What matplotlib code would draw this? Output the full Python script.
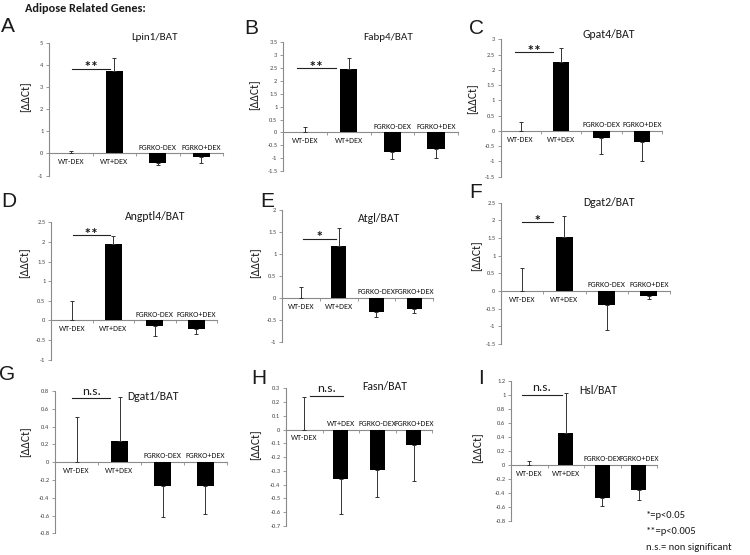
import numpy as np
import matplotlib
matplotlib.use('Agg')
import matplotlib.pyplot as plt
from matplotlib import font_manager

available = {f.name for f in font_manager.fontManager.ttflist}
base_font = next((f for f in ['Carlito', 'Lato'] if f in available), 'DejaVu Sans')
narrow_font = next((f for f in ['Carlito', 'Liberation Sans Narrow', 'Arial Narrow']
                    if f in available), None)
if narrow_font is None:
    cat_family, cat_size = [base_font, 'DejaVu Sans'], 4.9
else:
    cat_family, cat_size = [narrow_font, 'DejaVu Sans'], 5.8

plt.rcParams['font.family'] = [base_font, 'DejaVu Sans']
plt.rcParams['axes.unicode_minus'] = False

# ---------------- data ----------------
categories = ['WT-DEX', 'WT+DEX', 'FGRKO-DEX', 'FGRKO+DEX']
genes = ['Lpin1/BAT', 'Fabp4/BAT', 'Gpat4/BAT', 'Angptl4/BAT', 'Atgl/BAT',
         'Dgat2/BAT', 'Dgat1/BAT', 'Fasn/BAT', 'Hsl/BAT']
panel_letters = ['A', 'B', 'C', 'D', 'E', 'F', 'G', 'H', 'I']

lpin1 = [0.0, 3.72, -0.45, -0.18]
lpin1_err = [0.12, 0.58, 0.06, 0.27]
fabp4 = [0.0, 2.45, -0.78, -0.66]
fabp4_err = [0.22, 0.43, 0.26, 0.35]
gpat4 = [0.0, 2.27, -0.24, -0.36]
gpat4_err = [0.28, 0.44, 0.53, 0.62]
angptl4 = [0.0, 1.95, -0.14, -0.22]
angptl4_err = [0.50, 0.20, 0.27, 0.12]
atgl = [0.0, 1.19, -0.33, -0.25]
atgl_err = [0.25, 0.39, 0.10, 0.09]
dgat2 = [0.0, 1.54, -0.40, -0.13]
dgat2_err = [0.65, 0.59, 0.70, 0.11]
dgat1 = [0.0, 0.24, -0.27, -0.27]
dgat1_err = [0.51, 0.49, 0.35, 0.31]
fasn = [0.0, -0.36, -0.29, -0.11]
fasn_err = [0.24, 0.25, 0.20, 0.26]
hsl = [0.0, 0.46, -0.47, -0.36]
hsl_err = [0.06, 0.56, 0.11, 0.14]

values = [lpin1, fabp4, gpat4, angptl4, atgl, dgat2, dgat1, fasn, hsl]
errors = [lpin1_err, fabp4_err, gpat4_err, angptl4_err, atgl_err,
          dgat2_err, dgat1_err, fasn_err, hsl_err]

sig_labels = ['**', '**', '**', '**', '*', '*', 'n.s.', 'n.s.', 'n.s.']
sig_levels = [3.82, 2.5, 2.57, 2.17, 1.35, 1.95, 0.72, 0.245, 1.0]

# y-axis ranges (min, max, step)
y_ranges = [(-1, 5, 1), (-1.5, 3.5, 0.5), (-1.5, 3, 0.5), (-1, 2.5, 0.5),
            (-1, 2, 0.5), (-1.5, 2.5, 0.5), (-0.8, 0.8, 0.2), (-0.7, 0.3, 0.1),
            (-0.8, 1.2, 0.2)]

legend_lines = ['*=p<0.05', '**=p<0.005', 'n.s.= non significant']

# ---------------- layout (pixels) ----------------
W, H = 750, 555
# x_left, x_right, y_top, y_bottom
boxes = [(49, 223, 42.7, 175.5), (283, 458, 42.3, 171), (500.5, 662, 39.3, 176.7),
         (51, 217, 222.3, 359.5), (282, 433, 210, 341.7), (501, 670, 202.7, 344),
         (55, 227, 391, 533.3), (286, 432, 388.3, 526), (511, 657, 380.7, 521)]
title_pos = [(155, 37), (388, 37), (609, 35), (155, 217), (379, 218), (609, 203),
             (153, 396), (385, 386), (598, 391)]
title_size = [8, 8, 8.5, 8.5, 8.5, 8.5, 8.5, 8.5, 8.5]
letter_pos = [(8, 26), (251, 29), (477, 28), (9, 201), (267, 201), (476, 192),
              (7, 375), (259, 378), (481, 378)]
ylabel_pos = [(26, 97), (255, 95), (473, 99), (25, 263), (256, 263), (477, 256),
              (26, 442), (256, 445), (478, 448)]
sig_spans = [(0.03, 0.90), (-0.18, 0.71), (-0.13, 0.79), (0.03, 0.92), (0.06, 0.93),
             (0.0, 0.73), (-0.1, 0.78), (0.16, 1.06), (-0.2, 0.9)]


def fx(x):
    return x / W


def fy(y):
    return 1 - y / H


fig = plt.figure(figsize=(7.5, 5.55), dpi=100)
fig.patch.set_facecolor('white')

axis_col = '#8a8a8a'
text_col = '#1a1a1a'

fig.text(fx(25), fy(8), 'Adipose Related Genes:', fontsize=8.8, fontweight='bold',
         ha='left', va='center', color=text_col)

x = np.arange(len(categories))
for k in range(9):
    x0, x1, yt, yb = boxes[k]
    ax = fig.add_axes([fx(x0), fy(yb), (x1 - x0) / W, (yb - yt) / H])
    vals = np.array(values[k])
    errs = np.array(errors[k])
    ax.bar(x, vals, width=0.4, color='black', zorder=2)
    lower = np.where(vals < 0, errs, 0)
    upper = np.where(vals >= 0, errs, 0)
    ax.errorbar(x, vals, yerr=[lower, upper], fmt='none', ecolor='#333333',
                elinewidth=0.7, capsize=1.6, capthick=0.7, zorder=3)
    ymin, ymax, step = y_ranges[k]
    ax.set_ylim(ymin, ymax)
    ax.set_xlim(-0.5, 3.5)
    n = int(round((ymax - ymin) / step))
    ticks = [round(ymin + i * step, 4) for i in range(n + 1)]
    ax.set_yticks(ticks)
    ax.set_yticklabels([f'{t:g}' for t in ticks])
    ax.set_xticks([0.5, 1.5, 2.5, 3.5])
    ax.set_xticklabels([])
    for s in ['top', 'right']:
        ax.spines[s].set_visible(False)
    ax.spines['bottom'].set_position(('data', 0))
    for s in ['left', 'bottom']:
        ax.spines[s].set_color(axis_col)
        ax.spines[s].set_linewidth(0.8)
        ax.spines[s].set_zorder(1)
    ax.tick_params(axis='y', direction='out', length=2.5, width=0.6, color=axis_col,
                   labelsize=4.6, labelcolor='#444444', pad=1.5)
    ax.tick_params(axis='x', direction='out', length=2.5, width=0.6, color=axis_col)
    ax.patch.set_alpha(0)
    # category labels
    for i, c in enumerate(categories):
        off = -6 if vals[i] >= 0 else 4.5
        ax.annotate(c, xy=(x[i], 0), xytext=(0, off), textcoords='offset points',
                    ha='center', va='center', fontsize=cat_size, color=text_col,
                    family=cat_family, annotation_clip=False)
    # significance
    sx0, sx1 = sig_spans[k]
    ax.plot([sx0, sx1], [sig_levels[k], sig_levels[k]], color='#222222', lw=0.8,
            clip_on=False, zorder=3)
    if sig_labels[k] == 'n.s.':
        ax.annotate('n.s.', xy=((sx0 + sx1) / 2, sig_levels[k]), xytext=(0, 2.5),
                    textcoords='offset points', ha='center', va='baseline',
                    fontsize=9.5, color=text_col, annotation_clip=False)
    else:
        ax.annotate(sig_labels[k], xy=((sx0 + sx1) / 2, sig_levels[k]), xytext=(0, -2.5),
                    textcoords='offset points', ha='center', va='baseline',
                    fontsize=11, fontweight='bold', color=text_col,
                    annotation_clip=False)
    # title, letter, y label
    tx, ty = title_pos[k]
    fig.text(fx(tx), fy(ty), genes[k], fontsize=title_size[k], ha='center',
             va='center', color=text_col)
    lx, ly = letter_pos[k]
    fig.text(fx(lx), fy(ly), panel_letters[k], fontsize=15, ha='center', va='center',
             color=text_col, family=['Liberation Sans', 'DejaVu Sans'])
    yx, yy = ylabel_pos[k]
    fig.text(fx(yx), fy(yy), '[ΔΔCt]', fontsize=8.5, ha='center', va='center',
             rotation=90, color=text_col)

for j, line in enumerate(legend_lines):
    fig.text(fx(646), fy(515 + 16.5 * j), line, fontsize=7.6, ha='left', va='center',
             color=text_col)

fig.savefig('out.png', dpi=100, facecolor='white')
